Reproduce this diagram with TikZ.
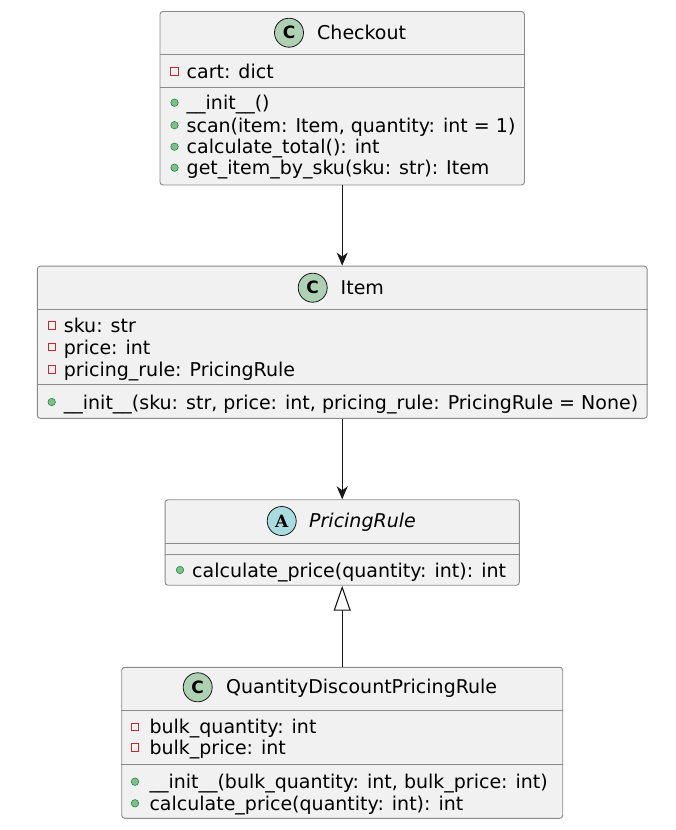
\documentclass[tikz,border=0pt]{standalone}
\usepackage{fontspec}
\setmainfont{DejaVu Sans}
\newfontfamily\circlefont{DejaVu Serif}
\usetikzlibrary{arrows.meta, positioning}
\definecolor{umlfill}{HTML}{F1F1F1}
\definecolor{umlline}{HTML}{8A8A8A}
\definecolor{umlink}{HTML}{181818}
\definecolor{classgreen}{HTML}{ADD1B2}
\definecolor{abstractblue}{HTML}{A9DCDF}
\definecolor{privred}{HTML}{C82930}
\definecolor{pubgreen}{HTML}{84BE84}
\definecolor{pubdark}{HTML}{038048}

\begin{document}
\begin{tikzpicture}[x=1pt, y=-1pt,
  cbox/.style={draw=umlline, fill=umlfill, rounded corners=3pt, line width=0.9pt,
               inner sep=0pt},
  sepline/.style={draw=umlline, line width=0.9pt},
  badge/.style={circle, draw=umlink, line width=0.8pt, minimum size=29pt,
                inner sep=0pt, font=\fontsize{17}{17}\selectfont\bfseries},
  title/.style={anchor=base west, inner sep=0pt, font=\fontsize{19}{22}\selectfont},
  row/.style={anchor=base west, inner sep=0pt, font=\fontsize{19}{22}\selectfont},
  priv/.style={rectangle, draw=privred, fill=umlfill, line width=0.8pt,
               minimum size=7.5pt, inner sep=0pt},
  pub/.style={circle, draw=pubdark, fill=pubgreen, line width=0.5pt,
              minimum size=7.5pt, inner sep=0pt},
  dep/.style={-{Stealth[length=13pt, width=11pt, inset=4pt]}, umlink, line width=1.1pt},
  inh/.style={-{Triangle[open, length=25pt, width=17pt, fill=white]}, umlink, line width=1.1pt}
]
  \useasboundingbox[fill=white] (0,0) rectangle (675,830);

  % Checkout
  \node[cbox, minimum width=364.5pt, minimum height=173.5pt] (checkout) at (342.2,98.2) {};
  \draw[sepline] (checkout.west |- 0,54) -- (checkout.east |- 0,54);
  \draw[sepline] (checkout.west |- 0,87) -- (checkout.east |- 0,87);
  \node[badge, fill=classgreen] (checkout-c) at (289,32.7) {C};
  \node[title] (checkout-t) at (317,39.2) {Checkout};
  \node[priv] (checkout-p1) at (174.5,71.5) {};
  \node[row] (checkout-a1) at (186.5,78.5) {cart: dict};
  \node[pub] (checkout-p2) at (174.5,102.7) {};
  \node[row] (checkout-m1) at (186.5,109.7) {\_\_init\_\_()};
  \node[pub] (checkout-p3) at (174.5,125.2) {};
  \node[row] (checkout-m2) at (186.5,132.2) {scan(item: Item, quantity: int = 1)};
  \node[pub] (checkout-p4) at (174.5,146.7) {};
  \node[row] (checkout-m3) at (186.5,153.7) {calculate\_total(): int};
  \node[pub] (checkout-p5) at (174.5,167.7) {};
  \node[row] (checkout-m4) at (186.5,174.7) {get\_item\_by\_sku(sku: str): Item};

  % Item
  \node[cbox, minimum width=609.8pt, minimum height=152.3pt] (item) at (342.2,342.2) {};
  \draw[sepline] (item.west |- 0,309.5) -- (item.east |- 0,309.5);
  \draw[sepline] (item.west |- 0,384.3) -- (item.east |- 0,384.3);
  \node[badge, fill=classgreen] (item-c) at (312.7,287.7) {C};
  \node[title] (item-t) at (340.5,294.2) {Item};
  \node[priv] (item-p1) at (51.7,325.5) {};
  \node[row] (item-a1) at (63.7,332.5) {sku: str};
  \node[priv] (item-p2) at (51.7,347) {};
  \node[row] (item-a2) at (63.7,354) {price: int};
  \node[priv] (item-p3) at (51.7,369.5) {};
  \node[row] (item-a3) at (63.7,376.5) {pricing\_rule: PricingRule};
  \node[pub] (item-p4) at (51.7,402) {};
  \node[row] (item-m1) at (63.7,409) {\_\_init\_\_(sku: str, price: int, pricing\_rule: PricingRule = None)};

  % PricingRule
  \node[cbox, minimum width=354.3pt, minimum height=85.5pt] (rule) at (342.2,542.5) {};
  \draw[sepline] (rule.west |- 0,543.3) -- (rule.east |- 0,543.3);
  \draw[sepline] (rule.west |- 0,554) -- (rule.east |- 0,554);
  \node[badge, fill=abstractblue, font=\fontsize{17}{17}\selectfont\circlefont\bfseries] (rule-c) at (281.7,521) {A};
  \node[title, font=\fontsize{19}{22}\selectfont\itshape] (rule-t) at (309,527.5) {PricingRule};
  \node[pub] (rule-p1) at (180,570) {};
  \node[row] (rule-m1) at (192,577) {calculate\_price(quantity: int): int};

  % QuantityDiscountPricingRule
  \node[cbox, minimum width=441pt, minimum height=151pt] (qdrule) at (342.2,742.8) {};
  \draw[sepline] (qdrule.west |- 0,710.7) -- (qdrule.east |- 0,710.7);
  \draw[sepline] (qdrule.west |- 0,764) -- (qdrule.east |- 0,764);
  \node[badge, fill=classgreen] (qdrule-c) at (197.7,687.3) {C};
  \node[title] (qdrule-t) at (226,693.8) {QuantityDiscountPricingRule};
  \node[priv] (qdrule-p1) at (135,726.7) {};
  \node[row] (qdrule-a1) at (149.3,733.7) {bulk\_quantity: int};
  \node[priv] (qdrule-p2) at (135,747.3) {};
  \node[row] (qdrule-a2) at (149.3,754.3) {bulk\_price: int};
  \node[pub] (qdrule-p3) at (135,781.7) {};
  \node[row] (qdrule-m1) at (149.3,788.7) {\_\_init\_\_(bulk\_quantity: int, bulk\_price: int)};
  \node[pub] (qdrule-p4) at (135,803.3) {};
  \node[row] (qdrule-m2) at (149.3,810.3) {calculate\_price(quantity: int): int};

  % relations
  \draw[dep] (checkout.south) -- (item.north);
  \draw[dep] (item.south) -- (rule.north);
  \draw[inh] (qdrule.north) -- (rule.south);
\end{tikzpicture}
\end{document}
